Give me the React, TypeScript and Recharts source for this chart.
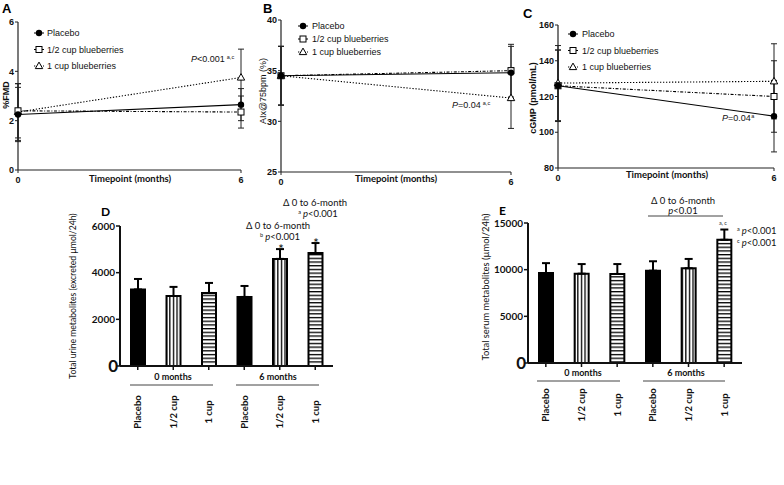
import React from 'react';
import { LineChart, Line, XAxis, YAxis, ErrorBar, Legend, BarChart, Bar, Cell } from 'recharts';

// ---------- shared ----------
const timepoints = [0, 6];
const legendNames = ['Placebo', '1/2 cup blueberries', '1 cup blueberries'];

// ---------- Panel A: %FMD ----------
const fmdPlacebo = [2.25, 2.65];
const fmdPlaceboSem = [1.1, 0.65];
const fmdHalf = [2.4, 2.35];
const fmdHalfSem = [1.1, 0.65];
const fmdOne = [2.35, 3.75];
const fmdOneSem = [1.15, 1.15];
const fmdTicks = [0, 2, 4, 6];

// ---------- Panel B: AIx@75bpm ----------
const aixPlacebo = [34.5, 34.8];
const aixPlaceboSem = [2.9, 2.6];
const aixHalf = [34.5, 35.0];
const aixHalfSem = [2.9, 2.6];
const aixOne = [34.5, 32.3];
const aixOneSem = [2.9, 3.0];
const aixTicks = [25, 30, 35, 40];

// ---------- Panel C: cGMP ----------
const cgmpPlacebo = [126, 109];
const cgmpPlaceboSem = [20, 20];
const cgmpHalf = [126, 120];
const cgmpHalfSem = [20, 20];
const cgmpOne = [127.5, 128.5];
const cgmpOneSem = [21, 21];
const cgmpTicks = [80, 100, 120, 140, 160];

// ---------- Panels D / E: bars ----------
const barKeys = ['p0', 'h0', 'o0', 'p6', 'h6', 'o6'];
const barLabels = ['Placebo', '1/2 cup', '1 cup', 'Placebo', '1/2 cup', '1 cup'];
const barKinds = ['solid', 'vstripe', 'hstripe', 'solid', 'vstripe', 'hstripe'];
const urineMeans = [3280, 3000, 3130, 2960, 4590, 4840];
const urineSem = [450, 390, 430, 470, 420, 430];
const urineTicks = [0, 2000, 4000, 6000];
const serumMeans = [9640, 9570, 9540, 9890, 10150, 13200];
const serumSem = [1060, 1030, 1060, 1010, 1000, 1100];
const serumTicks = [0, 5000, 10000, 15000];

const ARIAL = 'Liberation Sans, Arial, sans-serif';
const CAL = 'Lato, Liberation Sans, sans-serif';

const buildLineRows = (p, pe, h, he, o, oe) =>
  timepoints.map((t, i) => ({ t, p: p[i], pe: pe[i], h: h[i], he: he[i], o: o[i], oe: oe[i] }));

const buildBarRows = (means, sems) =>
  barKeys.map((key, i) => ({ key, mean: means[i], err: [0, sems[i]] }));

const fillFor = (kind) =>
  kind === 'solid' ? '#000' : kind === 'vstripe' ? 'url(#vstripe)' : 'url(#hstripe)';

const lineStyles = {
  p: { dash: undefined, kind: 'circle' },
  h: { dash: '3 1.6 1 1.6', kind: 'square' },
  o: { dash: '1.3 1.7', kind: 'triangle' },
};

function Marker({ kind, cx, cy }) {
  if (kind === 'circle') return <circle cx={cx} cy={cy} r={3.2} fill="#000" />;
  if (kind === 'square')
    return <rect x={cx - 3} y={cy - 3} width={6} height={6} fill="#fff" stroke="#000" strokeWidth={1} />;
  return (
    <polygon
      points={`${cx},${cy - 3.9} ${cx + 3.7},${cy + 2.6} ${cx - 3.7},${cy + 2.6}`}
      fill="#fff"
      stroke="#000"
      strokeWidth={1}
    />
  );
}

const dotFor = (kind) => (props) =>
  <Marker key={`${kind}-${props.index}`} kind={kind} cx={props.cx} cy={props.cy} />;

const makeLegend = (spacing, textDx) => () => (
  <svg width={170} height={12 + spacing * 2} style={{ overflow: 'visible' }}>
    {legendNames.map((n, i) => {
      const key = ['p', 'h', 'o'][i];
      const st = lineStyles[key];
      const cy = 6 + i * spacing;
      return (
        <g key={n}>
          <line x1={1} x2={11} y1={cy} y2={cy} stroke="#000" strokeWidth={1} strokeDasharray={st.dash} />
          <Marker kind={st.kind} cx={6} cy={cy} />
          <text x={6 + textDx} y={cy + 3.2} fontFamily={ARIAL} fontSize={9} fill="#111">
            {n}
          </text>
        </g>
      );
    })}
  </svg>
);

const LineXTick = (props) => (
  <text x={props.x} y={props.y} dy={8} textAnchor="middle" fontFamily={ARIAL} fontWeight="bold" fontSize={9} fill="#111">
    {props.payload.value}
  </text>
);
const LineYTick = (props) => (
  <text x={props.x} y={props.y} dy={3.2} textAnchor="end" fontFamily={ARIAL} fontWeight="bold" fontSize={9} fill="#111">
    {props.payload.value}
  </text>
);

// plot: [left, top, right, bottom] in chart-local pixels
function LinePanel({ left, width, plot, rows, domain, ticks, legend }) {
  const height = 190;
  const [pl, pt, pr, pb] = plot;
  return (
    <div style={{ position: 'absolute', left, top: 0 }}>
      <LineChart width={width} height={height} data={rows} margin={{ top: pt, right: width - pr, left: 0, bottom: 0 }}>
        <XAxis
          dataKey="t"
          type="number"
          domain={[0, 6]}
          ticks={timepoints}
          interval={0}
          height={height - pb}
          tickSize={3}
          tick={LineXTick}
          axisLine={{ stroke: '#222', strokeWidth: 1.2 }}
          tickLine={{ stroke: '#222' }}
        />
        <YAxis
          type="number"
          domain={domain}
          ticks={ticks}
          interval={0}
          width={pl}
          tickSize={3}
          tickMargin={1}
          tick={LineYTick}
          axisLine={{ stroke: '#222', strokeWidth: 1.2 }}
          tickLine={{ stroke: '#222' }}
        />
        {['o', 'h', 'p'].map((k) => (
          <Line
            key={k}
            dataKey={k}
            type="linear"
            stroke="#000"
            strokeWidth={1.1}
            strokeDasharray={lineStyles[k].dash}
            dot={dotFor(lineStyles[k].kind)}
            activeDot={false}
            isAnimationActive={false}
          >
            <ErrorBar dataKey={`${k}e`} direction="y" width={3} stroke="#222" strokeWidth={1} />
          </Line>
        ))}
        <Legend
          layout="vertical"
          verticalAlign="middle"
          align="center"
          content={makeLegend(legend.spacing, legend.textDx)}
          wrapperStyle={{ left: legend.x, top: legend.y, width: 170 }}
        />
      </LineChart>
    </div>
  );
}

const makeBarXTick = (offset) => (props) => {
  const { x, y, index } = props;
  const cy = y + offset;
  return (
    <text
      x={x}
      y={cy}
      transform={`rotate(-90 ${x} ${cy})`}
      textAnchor="middle"
      dominantBaseline="central"
      fontFamily={CAL}
      fontWeight="bold"
      fontSize={9.5}
      fill="#111"
    >
      {barLabels[index]}
    </text>
  );
};

const BarYTick = (props) => {
  const { x, y, payload } = props;
  const zero = payload.value === 0;
  return (
    <text
      x={x + (zero ? 3 : 0)}
      y={y}
      dy={zero ? 6 : 3.5}
      textAnchor="end"
      fontFamily={CAL}
      fontWeight="bold"
      fontSize={zero ? 17 : 10}
      fill="#111"
    >
      {payload.value}
    </text>
  );
};

function BarPanel({ left, width, plot, rows, domain, ticks, labelOffset }) {
  const height = 305;
  const [pl, pt, pr, pb] = plot;
  return (
    <div style={{ position: 'absolute', left, top: 180 }}>
      <BarChart
        width={width}
        height={height}
        data={rows}
        margin={{ top: pt, right: width - pr, left: 0, bottom: 0 }}
        barCategoryGap={0}
      >
        <XAxis
          dataKey="key"
          type="category"
          interval={0}
          height={height - pb}
          tickSize={4}
          tick={makeBarXTick(labelOffset)}
          axisLine={{ stroke: '#111', strokeWidth: 2 }}
          tickLine={{ stroke: '#111', strokeWidth: 1.5 }}
        />
        <YAxis
          type="number"
          domain={domain}
          ticks={ticks}
          interval={0}
          width={pl}
          tickSize={4}
          tickMargin={1}
          tick={BarYTick}
          axisLine={{ stroke: '#111', strokeWidth: 2 }}
          tickLine={{ stroke: '#111', strokeWidth: 1.5 }}
        />
        <Bar dataKey="mean" barSize={14} stroke="#000" strokeWidth={2} isAnimationActive={false}>
          {rows.map((r, i) => (
            <Cell key={r.key} fill={fillFor(barKinds[i])} />
          ))}
          <ErrorBar dataKey="err" direction="y" width={4} stroke="#000" strokeWidth={2} />
        </Bar>
      </BarChart>
    </div>
  );
}

function Sup({ children, dx = 2 }) {
  return (
    <tspan fontSize={5.5} dx={dx} dy={-3.5}>
      {children}
    </tspan>
  );
}

function Overlay() {
  const t9 = { fontFamily: ARIAL, fontSize: 9, fill: '#111' };
  const c9 = { fontFamily: CAL, fontSize: 9.5, fill: '#111' };
  return (
    <svg
      width={784}
      height={485}
      style={{ position: 'absolute', left: 0, top: 0, pointerEvents: 'none', overflow: 'visible' }}
    >
      {/* panel letters */}
      <text x={2} y={13} fontFamily={ARIAL} fontWeight="bold" fontSize={13}>A</text>
      <text x={263} y={13} fontFamily={ARIAL} fontWeight="bold" fontSize={13}>B</text>
      <text x={523} y={18} fontFamily={ARIAL} fontWeight="bold" fontSize={13}>C</text>
      <text x={101} y={216} fontFamily={CAL} fontWeight="bold" fontSize={12}>D</text>
      <text x={499} y={215} fontFamily={CAL} fontWeight="bold" fontSize={12}>E</text>

      {/* axis titles A-C */}
      <text transform="rotate(-90 9 95)" x={9} y={95} textAnchor="middle" {...t9} fontWeight="bold">%FMD</text>
      <text transform="rotate(-90 265.5 91)" x={265.5} y={91} textAnchor="middle" {...t9}>AIx@75bpm (%)</text>
      <text transform="rotate(-90 535.5 98)" x={535.5} y={98} textAnchor="middle" {...t9} fontWeight="bold">cGMP (pmol/mL)</text>
      <text x={130} y={182} textAnchor="middle" fontFamily={CAL} fontWeight="bold" fontSize={9.5} fill="#111">Timepoint (months)</text>
      <text x={396} y={182} textAnchor="middle" fontFamily={CAL} fontWeight="bold" fontSize={9.5} fill="#111">Timepoint (months)</text>
      <text x={667} y={178} textAnchor="middle" fontFamily={CAL} fontWeight="bold" fontSize={9.5} fill="#111">Timepoint (months)</text>

      {/* p-values A-C */}
      <text x={191} y={62} {...t9}>
        <tspan fontStyle="italic">P</tspan>&lt;0.001<Sup>a,c</Sup>
      </text>
      <text x={452} y={108} {...t9}>
        <tspan fontStyle="italic">P</tspan>=0.04<Sup>a,c</Sup>
      </text>
      <text x={722} y={121} {...t9}>
        <tspan fontStyle="italic">P</tspan>=0.04<Sup dx={0.5}>a</Sup>
      </text>

      {/* axis titles D/E */}
      <text transform="rotate(-90 75.5 296)" x={75.5} y={296} textAnchor="middle" fontFamily={CAL} fontSize={8.6} fill="#111">
        Total urine metabolites (excreted µmol/24h)
      </text>
      <text transform="rotate(-90 488.5 287)" x={488.5} y={287} textAnchor="middle" fontFamily={CAL} fontSize={9.4} fill="#111">
        Total serum metabolites (µmol/24h)
      </text>

      {/* group labels D */}
      <text x={173} y={380} textAnchor="middle" fontFamily={CAL} fontWeight="bold" fontSize={9} fill="#111">0 months</text>
      <line x1={130} x2={213} y1={385} y2={385} stroke="#444" strokeWidth={1} />
      <text x={278} y={380} textAnchor="middle" fontFamily={CAL} fontWeight="bold" fontSize={9} fill="#111">6 months</text>
      <line x1={236} x2={319} y1={385} y2={385} stroke="#444" strokeWidth={1} />
      {/* group labels E */}
      <text x={583} y={376} textAnchor="middle" fontFamily={CAL} fontWeight="bold" fontSize={9} fill="#111">0 months</text>
      <line x1={537} x2={620} y1={381} y2={381} stroke="#444" strokeWidth={1} />
      <text x={686} y={376} textAnchor="middle" fontFamily={CAL} fontWeight="bold" fontSize={9} fill="#111">6 months</text>
      <line x1={643} x2={725} y1={381} y2={381} stroke="#444" strokeWidth={1} />

      {/* annotations D */}
      <text x={315} y={206} textAnchor="middle" {...c9}>Δ 0 to 6-month</text>
      <text x={318} y={217} textAnchor="middle" {...c9}>
        <tspan fontSize={5.5} dy={-3}>a</tspan>
        <tspan dy={3} dx={2} fontStyle="italic">p</tspan>&lt;0.001
      </text>
      <text x={278} y={229} textAnchor="middle" {...c9}>Δ 0 to 6-month</text>
      <text x={280} y={239.5} textAnchor="middle" {...c9}>
        <tspan fontSize={5.5} dy={-3}>b</tspan>
        <tspan dy={3} dx={2} fontStyle="italic">p</tspan>&lt;0.001
      </text>
      <text x={281} y={254} textAnchor="middle" fontFamily={CAL} fontSize={13} fill="#111">*</text>
      <text x={316} y={248} textAnchor="middle" fontFamily={CAL} fontSize={13} fill="#111">*</text>

      {/* annotations E */}
      <text x={683} y={204} textAnchor="middle" {...c9}>Δ 0 to 6-month</text>
      <text x={683} y={214} textAnchor="middle" {...c9}>
        <tspan fontStyle="italic">p</tspan>&lt;0.01
      </text>
      <line x1={648} x2={723} y1={216} y2={216} stroke="#444" strokeWidth={1} />
      <text x={723} y={225} textAnchor="middle" fontFamily={CAL} fontSize={5.5} fill="#333">a, c</text>
      <text x={737} y={234} {...c9}>
        <tspan fontSize={5.5} dy={-3}>a</tspan>
        <tspan dy={3} dx={2} fontStyle="italic">p</tspan>&lt;0.001
      </text>
      <text x={737} y={246} {...c9}>
        <tspan fontSize={5.5} dy={-3}>c</tspan>
        <tspan dy={3} dx={2} fontStyle="italic">p</tspan>&lt;0.001
      </text>
    </svg>
  );
}

export default function App() {
  const rowsA = buildLineRows(fmdPlacebo, fmdPlaceboSem, fmdHalf, fmdHalfSem, fmdOne, fmdOneSem);
  const rowsB = buildLineRows(aixPlacebo, aixPlaceboSem, aixHalf, aixHalfSem, aixOne, aixOneSem);
  const rowsC = buildLineRows(cgmpPlacebo, cgmpPlaceboSem, cgmpHalf, cgmpHalfSem, cgmpOne, cgmpOneSem);
  const rowsD = buildBarRows(urineMeans, urineSem);
  const rowsE = buildBarRows(serumMeans, serumSem);

  return (
    <div style={{ position: 'absolute', left: 0, top: 0, width: 784, height: 485, background: '#fff', overflow: 'hidden' }}>
      <svg width={0} height={0} style={{ position: 'absolute' }}>
        <defs>
          <pattern id="vstripe" patternUnits="userSpaceOnUse" width={3.6} height={10}>
            <rect x={0} y={0} width={3.6} height={10} fill="#fff" />
            <rect x={0} y={0} width={1.3} height={10} fill="#000" />
          </pattern>
          <pattern id="hstripe" patternUnits="userSpaceOnUse" width={10} height={3.7}>
            <rect x={0} y={0} width={10} height={3.7} fill="#fff" />
            <rect x={0} y={0} width={10} height={1.3} fill="#000" />
          </pattern>
        </defs>
      </svg>
      <LinePanel
        left={0}
        width={262}
        plot={[18, 22, 241, 170]}
        rows={rowsA}
        domain={[0, 6]}
        ticks={fmdTicks}
        legend={{ x: 33, y: 27, spacing: 16.5, textDx: 8 }}
      />
      <LinePanel
        left={262}
        width={258}
        plot={[19, 20, 249, 172]}
        rows={rowsB}
        domain={[25, 40]}
        ticks={aixTicks}
        legend={{ x: 35, y: 20, spacing: 13, textDx: 9 }}
      />
      <LinePanel
        left={520}
        width={264}
        plot={[38, 25, 254, 168]}
        rows={rowsC}
        domain={[80, 160]}
        ticks={cgmpTicks}
        legend={{ x: 47, y: 28, spacing: 16.5, textDx: 9 }}
      />
      <BarPanel
        left={0}
        width={390}
        plot={[120, 46, 333, 186]}
        rows={rowsD}
        domain={[0, 6000]}
        ticks={urineTicks}
        labelOffset={40}
      />
      <BarPanel
        left={390}
        width={394}
        plot={[138, 43, 352, 183]}
        rows={rowsE}
        domain={[0, 15000]}
        ticks={serumTicks}
        labelOffset={36}
      />
      <Overlay />
    </div>
  );
}
